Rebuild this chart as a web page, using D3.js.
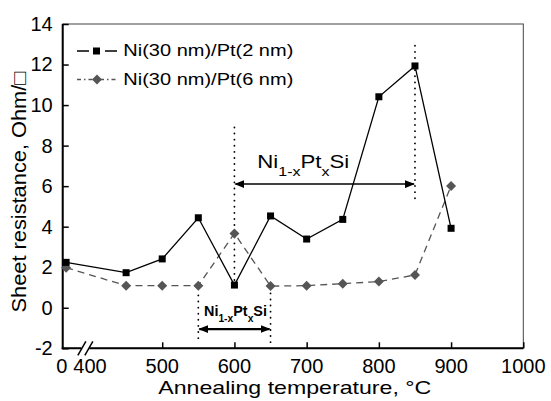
<!DOCTYPE html>
<html>
<head>
<meta charset="utf-8">
<script src="https://cdn.jsdelivr.net/npm/d3@7/dist/d3.min.js"></script>
<style>
  body { margin: 0; background: #fff; }
  svg { display: block; font-family: "Liberation Sans", Arial, sans-serif; }
</style>
</head>
<body>
<div id="chart"></div>
<script>
// data
var temps = [50, 450, 500, 550, 600, 650, 700, 750, 800, 850, 900];
var rsPt2 = [2.24, 1.73, 2.41, 4.44, 1.12, 4.53, 3.39, 4.36, 10.41, 11.93, 3.92];
var rsPt6 = [1.98, 1.09, 1.09, 1.09, 3.67, 1.07, 1.09, 1.19, 1.29, 1.62, 6.01];
var seriesNames = ["Ni(30 nm)/Pt(2 nm)", "Ni(30 nm)/Pt(6 nm)"];

var yTicks = [-2, 0, 2, 4, 6, 8, 10, 12, 14];
var xTicks = [500, 600, 700, 800, 900, 1000];
var xTickLabels = [0, 400, 500, 600, 700, 800, 900, 1000];

// annotations (temperature ranges of the silicide phase)
var guideX = [600, 850, 550, 650];
var guideFrom = [1.37, 5.4, -1.5, -1.7];
var guideTo = [8.93, 13.2, 0.8, 1.0];
var rangeFrom = [600, 550];
var rangeTo = [850, 650];
var rangeLevel = [6.1, -1.05];

var width = 551, height = 401;
var padding = { top: 24, right: 27.7, bottom: 52.7, left: 62.7 };

var svg = d3.select("#chart").append("svg")
    .attr("width", width)
    .attr("height", height);

var defs = svg.append("defs");
defs.append("marker")
    .attr("id", "head")
    .attr("viewBox", "0 0 10 8")
    .attr("refX", 9).attr("refY", 4)
    .attr("markerWidth", 10).attr("markerHeight", 8)
    .attr("markerUnits", "userSpaceOnUse")
    .attr("orient", "auto-start-reverse")
    .append("path")
    .attr("d", "M0,0 L10,4 L0,8 z")
    .attr("fill", "#000");

// x axis has a break between 0 and 400
var xScale = d3.scaleLinear()
    .domain([0, 400, 1000])
    .range([padding.left, 90, width - padding.right]);
var yScale = d3.scaleLinear()
    .domain([-2, 14])
    .range([height - padding.bottom, padding.top]);

var x0 = padding.left, x1 = width - padding.right;
var y0 = height - padding.bottom, y1 = padding.top;

// thin frame top/right
svg.append("rect")
    .attr("x", x0).attr("y", y1)
    .attr("width", x1 - x0).attr("height", y0 - y1)
    .attr("fill", "none")
    .attr("stroke", "#444")
    .attr("stroke-width", 1);

// y axis
var yAxis = d3.axisLeft(yScale)
    .tickValues(yTicks)
    .tickSizeInner(-6)
    .tickSizeOuter(0)
    .tickPadding(10)
    .tickFormat(function(d) { return String(d); });
var gy = svg.append("g")
    .attr("transform", "translate(" + x0 + ",0)")
    .call(yAxis);
gy.select(".domain").remove();
gy.selectAll(".tick line").attr("stroke", "#000").attr("stroke-width", 1.5);
gy.selectAll(".tick text")
    .attr("font-size", 20)
    .attr("font-family", "Liberation Sans, Arial, sans-serif")
    .attr("fill", "#000");

// x axis ticks
var xAxis = d3.axisBottom(xScale)
    .tickValues(xTicks)
    .tickSizeInner(-6)
    .tickSizeOuter(0)
    .tickFormat("");
var gx = svg.append("g")
    .attr("transform", "translate(0," + y0 + ")")
    .call(xAxis);
gx.select(".domain").remove();
gx.selectAll(".tick line").attr("stroke", "#000").attr("stroke-width", 1.5);

// x tick labels (0 and 400 sit on both sides of the break)
svg.append("g").selectAll("text")
    .data(xTickLabels)
    .enter().append("text")
    .attr("x", function(d) { return xScale(d) + (d === 0 ? -1 : 0); })
    .attr("y", y0 + 25)
    .attr("text-anchor", "middle")
    .attr("font-size", 20)
    .text(function(d) { return d; });

// thick left and bottom axis lines
svg.append("line")
    .attr("x1", x0).attr("x2", x0).attr("y1", y1).attr("y2", y0 + 1)
    .attr("stroke", "#000").attr("stroke-width", 2);
svg.append("line")
    .attr("x1", x0 - 1).attr("x2", x1).attr("y1", y0).attr("y2", y0)
    .attr("stroke", "#000").attr("stroke-width", 2);

// axis break
var bx = (xScale(0) + xScale(400)) / 2 + 9;
svg.append("rect")
    .attr("x", bx - 4).attr("y", y0 - 2)
    .attr("width", 8).attr("height", 4)
    .attr("fill", "#fff");
[-3.5, 3.5].forEach(function(off) {
    svg.append("line")
        .attr("x1", bx + off - 4).attr("y1", y0 + 7)
        .attr("x2", bx + off + 4).attr("y2", y0 - 7)
        .attr("stroke", "#000").attr("stroke-width", 1.5);
});

// axis titles
svg.append("text")
    .attr("x", 158.3)
    .attr("y", 394)
    .attr("font-size", 19)
    .attr("textLength", 273)
    .attr("lengthAdjust", "spacingAndGlyphs")
    .text("Annealing temperature,  \u00B0C");

svg.append("text")
    .attr("transform", "rotate(-90)")
    .attr("x", -192)
    .attr("y", 26)
    .attr("text-anchor", "middle")
    .attr("font-size", 19.5)
    .attr("textLength", 241)
    .attr("lengthAdjust", "spacingAndGlyphs")
    .text("Sheet resistance, Ohm/\u25A1");

// annotations: dotted guides
var guides = svg.append("g");
guideX.forEach(function(t, i) {
    guides.append("line")
        .attr("x1", xScale(t)).attr("x2", xScale(t))
        .attr("y1", yScale(guideFrom[i])).attr("y2", yScale(guideTo[i]))
        .attr("stroke", "#000")
        .attr("stroke-width", 1.8)
        .attr("stroke-linecap", "round")
        .attr("stroke-dasharray", "0.1,6");
});

// range arrows
rangeFrom.forEach(function(t, i) {
    svg.append("line")
        .attr("x1", xScale(t) + 1).attr("x2", xScale(rangeTo[i]) - 1)
        .attr("y1", yScale(rangeLevel[i])).attr("y2", yScale(rangeLevel[i]))
        .attr("stroke", "#000")
        .attr("stroke-width", i === 0 ? 1.5 : 2.2)
        .attr("marker-start", "url(#head)")
        .attr("marker-end", "url(#head)");
});

// phase labels
function phaseLabel(x, y, size, subSize, bold, len) {
    var t = svg.append("text")
        .attr("x", x).attr("y", y)
        .attr("font-size", size)
        .attr("font-weight", bold ? "bold" : "normal")
        .attr("textLength", len)
        .attr("lengthAdjust", "spacingAndGlyphs");
    var shift = size * 0.4;
    t.append("tspan").text("Ni");
    t.append("tspan").attr("dy", shift).attr("font-size", subSize).text("1-x");
    t.append("tspan").attr("dy", -shift).text("Pt");
    t.append("tspan").attr("dy", shift).attr("font-size", subSize).text("x");
    t.append("tspan").attr("dy", -shift).text("Si");
}
phaseLabel(257.3, 168.3, 18, 13, false, 92);
phaseLabel(204, 316, 14, 10, true, 63);

// series
var pts2 = temps.map(function(t, i) { return { t: t, v: rsPt2[i] }; });
var pts6 = temps.map(function(t, i) { return { t: t, v: rsPt6[i] }; });

var line = d3.line()
    .x(function(d) { return xScale(d.t); })
    .y(function(d) { return yScale(d.v); });

svg.append("path")
    .datum(pts6)
    .attr("fill", "none")
    .attr("stroke", "#555")
    .attr("stroke-width", 1.3)
    .attr("stroke-dasharray", "7,5")
    .attr("d", line);

svg.append("path")
    .datum(pts2)
    .attr("fill", "none")
    .attr("stroke", "#000")
    .attr("stroke-width", 1.3)
    .attr("d", line);

var diamond = d3.symbol().type(d3.symbolSquare).size(50);
svg.append("g").selectAll("path")
    .data(pts6)
    .enter().append("path")
    .attr("d", diamond)
    .attr("transform", function(d) {
        return "translate(" + xScale(d.t) + "," + yScale(d.v) + ") rotate(45)";
    })
    .attr("fill", "#555");

svg.append("g").selectAll("rect")
    .data(pts2)
    .enter().append("rect")
    .attr("x", function(d) { return xScale(d.t) - 3.5; })
    .attr("y", function(d) { return yScale(d.v) - 3.5; })
    .attr("width", 7).attr("height", 7)
    .attr("fill", "#000");

// legend
var legend = svg.append("g").attr("transform", "translate(77,51)");
seriesNames.forEach(function(name, i) {
    var row = legend.append("g").attr("transform", "translate(0," + (i * 28.5) + ")");
    row.append("line")
        .attr("x1", 0).attr("x2", 40).attr("y1", 0).attr("y2", 0)
        .attr("stroke", i === 0 ? "#000" : "#555")
        .attr("stroke-width", 1.3)
        .attr("stroke-dasharray", i === 0 ? "12,16,12" : "4,3,1.5,3");
    if (i === 0) {
        row.append("rect")
            .attr("x", 16).attr("y", -3.5)
            .attr("width", 7).attr("height", 7)
            .attr("fill", "#000");
    } else {
        row.append("path")
            .attr("d", diamond)
            .attr("transform", "translate(20,0) rotate(45)")
            .attr("fill", "#555");
    }
    row.append("text")
        .attr("x", 46.3)
        .attr("y", 5)
        .attr("font-size", 17)
        .attr("textLength", 170)
        .attr("lengthAdjust", "spacingAndGlyphs")
        .text(name);
});
</script>
</body>
</html>
